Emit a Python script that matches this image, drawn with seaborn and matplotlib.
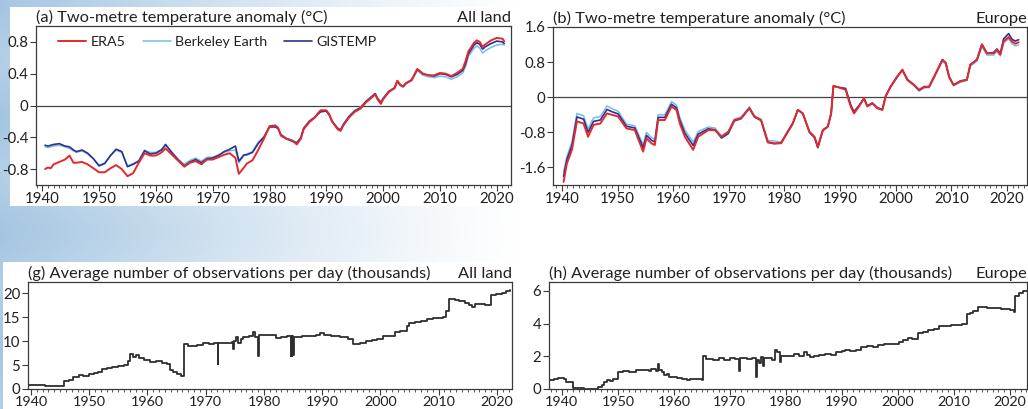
import numpy as np
import matplotlib
matplotlib.use("Agg")
import matplotlib.pyplot as plt
import seaborn as sns
import pandas as pd
from matplotlib.ticker import MultipleLocator, FixedLocator, FixedFormatter

# ---------------- data ----------------
# (a) All land, 2 m temperature anomaly (12-month running mean)
years_a = [1940.5, 1941.0, 1941.5, 1942, 1943, 1944, 1944.8, 1945.5, 1946, 1947,
           1948, 1949, 1950, 1951, 1952, 1953, 1954, 1955, 1956, 1957,
           1958, 1959, 1960, 1961, 1961.7, 1963, 1964, 1965, 1966, 1967,
           1968, 1969, 1970, 1971, 1972, 1973, 1974, 1974.6, 1975.5, 1976,
           1977, 1978, 1979, 1980, 1981, 1981.5, 1982, 1983, 1984, 1984.8,
           1985.5, 1986, 1987, 1988, 1988.5, 1989, 1990, 1990.5, 1991, 1992,
           1992.5, 1993, 1994, 1995, 1996, 1997, 1998, 1998.6, 1999, 1999.6,
           2000, 2001, 2002, 2002.5, 2003, 2003.5, 2004, 2005, 2006, 2006.5,
           2007, 2008, 2009, 2010, 2011, 2012, 2013, 2014, 2014.5, 2015,
           2016, 2016.5, 2017, 2017.5, 2018, 2019, 2020, 2021, 2021.3]
era5_a = [-0.80, -0.78, -0.79, -0.74, -0.71, -0.68, -0.63, -0.72, -0.72, -0.71,
          -0.74, -0.79, -0.84, -0.84, -0.79, -0.75, -0.80, -0.89, -0.85, -0.72,
          -0.60, -0.63, -0.63, -0.59, -0.54, -0.63, -0.70, -0.77, -0.72, -0.70,
          -0.74, -0.68, -0.68, -0.65, -0.62, -0.60, -0.66, -0.86, -0.78, -0.73,
          -0.69, -0.56, -0.42, -0.26, -0.25, -0.28, -0.38, -0.42, -0.44, -0.49,
          -0.42, -0.30, -0.21, -0.15, -0.10, -0.06, -0.06, -0.11, -0.20, -0.30,
          -0.32, -0.25, -0.15, -0.08, -0.04, 0.04, 0.10, 0.14, 0.08, 0.02,
          0.08, 0.17, 0.22, 0.31, 0.26, 0.24, 0.28, 0.32, 0.46, 0.43,
          0.40, 0.38, 0.38, 0.41, 0.40, 0.37, 0.41, 0.46, 0.56, 0.68,
          0.79, 0.82, 0.80, 0.74, 0.77, 0.82, 0.85, 0.84, 0.81]
gistemp_a = [-0.50, -0.51, -0.50, -0.49, -0.48, -0.51, -0.52, -0.56, -0.58, -0.56,
             -0.60, -0.67, -0.76, -0.73, -0.63, -0.55, -0.58, -0.77, -0.74, -0.70,
             -0.57, -0.61, -0.60, -0.56, -0.49, -0.61, -0.69, -0.76, -0.71, -0.68,
             -0.72, -0.67, -0.66, -0.63, -0.58, -0.55, -0.51, -0.70, -0.62, -0.62,
             -0.59, -0.48, -0.40, -0.27, -0.27, -0.29, -0.37, -0.42, -0.45, -0.47,
             -0.41, -0.29, -0.20, -0.15, -0.11, -0.08, -0.07, -0.12, -0.20, -0.29,
             -0.31, -0.24, -0.14, -0.07, -0.03, 0.05, 0.11, 0.15, 0.09, 0.04,
             0.09, 0.18, 0.22, 0.31, 0.26, 0.24, 0.28, 0.32, 0.45, 0.43,
             0.40, 0.38, 0.37, 0.40, 0.39, 0.36, 0.39, 0.44, 0.52, 0.65,
             0.76, 0.79, 0.77, 0.71, 0.74, 0.78, 0.81, 0.80, 0.78]
berkeley_a = [-0.52, -0.53, -0.52, -0.51, -0.50, -0.52, -0.54, -0.57, -0.59, -0.57,
              -0.61, -0.67, -0.75, -0.72, -0.63, -0.56, -0.59, -0.76, -0.73, -0.69,
              -0.56, -0.59, -0.59, -0.55, -0.50, -0.60, -0.68, -0.74, -0.69, -0.66,
              -0.70, -0.65, -0.65, -0.62, -0.59, -0.57, -0.56, -0.72, -0.63, -0.61,
              -0.58, -0.46, -0.39, -0.26, -0.26, -0.28, -0.36, -0.41, -0.44, -0.46,
              -0.40, -0.28, -0.19, -0.14, -0.10, -0.07, -0.07, -0.11, -0.19, -0.28,
              -0.30, -0.23, -0.13, -0.06, -0.02, 0.06, 0.12, 0.15, 0.09, 0.03,
              0.08, 0.17, 0.21, 0.30, 0.25, 0.23, 0.27, 0.31, 0.44, 0.41,
              0.38, 0.36, 0.35, 0.37, 0.36, 0.33, 0.36, 0.41, 0.49, 0.62,
              0.72, 0.75, 0.72, 0.66, 0.69, 0.73, 0.76, 0.77, 0.76]

# (b) Europe, 2 m temperature anomaly
years_b = [1940.3, 1940.9, 1941.8, 1942.7, 1943.9, 1944.7, 1945.7, 1946.9, 1948.1, 1949.0,
           1950.1, 1951.6, 1953.1, 1954.6, 1955.2, 1956.1, 1956.7, 1957.3, 1958.5, 1959.7,
           1960.6, 1961.2, 1962.1, 1963.6, 1964.5, 1966.3, 1967.5, 1968.7, 1969.9, 1971.0,
           1972.2, 1973.7, 1974.6, 1975.8, 1977.0, 1978.2, 1979.4, 1980.6, 1981.5, 1982.4,
           1983.3, 1984.5, 1985.4, 1986.0, 1986.9, 1987.8, 1988.4, 1988.8, 1990.1, 1991.0,
           1991.9, 1992.5, 1993.4, 1994.3, 1994.9, 1995.8, 1996.7, 1997.6, 1998.2, 1999.1,
           2000.3, 2001.2, 2002.1, 2003.3, 2004.2, 2005.1, 2006.0, 2006.9, 2007.8, 2008.4,
           2009.0, 2009.6, 2010.4, 2011.6, 2012.8, 2013.4, 2014.6, 2015.5, 2016.4, 2017.6,
           2018.2, 2018.8, 2019.4, 2020.3, 2020.9, 2021.5, 2022.1]
era5_b = [-1.93, -1.51, -1.20, -0.55, -0.60, -0.90, -0.63, -0.60, -0.37, -0.40,
          -0.44, -0.71, -0.75, -1.24, -0.94, -1.05, -1.09, -0.52, -0.52, -0.21,
          -0.29, -0.60, -0.90, -1.20, -0.90, -0.75, -0.75, -0.90, -0.79, -0.52,
          -0.48, -0.25, -0.44, -0.52, -1.02, -1.05, -1.05, -0.79, -0.60, -0.29,
          -0.37, -0.79, -0.90, -1.13, -0.75, -0.67, -0.37, 0.26, 0.21, 0.17,
          -0.21, -0.37, -0.21, -0.02, -0.21, -0.14, -0.25, -0.29, 0.02, 0.24,
          0.47, 0.63, 0.40, 0.28, 0.17, 0.24, 0.24, 0.47, 0.70, 0.85,
          0.78, 0.47, 0.28, 0.36, 0.40, 0.74, 0.85, 1.20, 1.00, 1.00,
          1.08, 0.97, 1.27, 1.37, 1.27, 1.22, 1.25]
gistemp_b = [-1.80, -1.42, -1.10, -0.45, -0.50, -0.80, -0.55, -0.52, -0.28, -0.33,
             -0.38, -0.66, -0.70, -1.15, -0.87, -0.98, -1.02, -0.46, -0.46, -0.16,
             -0.24, -0.53, -0.82, -1.10, -0.84, -0.72, -0.74, -0.93, -0.83, -0.54,
             -0.49, -0.25, -0.45, -0.53, -1.03, -1.06, -1.04, -0.79, -0.60, -0.29,
             -0.37, -0.80, -0.92, -1.15, -0.76, -0.67, -0.37, 0.25, 0.22, 0.20,
             -0.17, -0.33, -0.19, -0.03, -0.20, -0.13, -0.24, -0.28, 0.03, 0.25,
             0.48, 0.62, 0.40, 0.28, 0.16, 0.23, 0.24, 0.46, 0.70, 0.86,
             0.78, 0.46, 0.28, 0.37, 0.40, 0.74, 0.86, 1.21, 1.00, 1.02,
             1.10, 1.00, 1.33, 1.45, 1.32, 1.28, 1.31]
berkeley_b = [-1.70, -1.35, -1.02, -0.37, -0.42, -0.72, -0.47, -0.44, -0.20, -0.26,
              -0.32, -0.61, -0.65, -1.08, -0.80, -0.92, -0.96, -0.40, -0.40, -0.10,
              -0.18, -0.46, -0.75, -1.02, -0.78, -0.68, -0.70, -0.88, -0.78, -0.50,
              -0.45, -0.22, -0.42, -0.50, -0.98, -1.00, -1.02, -0.76, -0.58, -0.28,
              -0.36, -0.78, -0.90, -1.12, -0.74, -0.66, -0.36, 0.25, 0.21, 0.18,
              -0.19, -0.35, -0.20, -0.03, -0.21, -0.14, -0.25, -0.29, 0.02, 0.24,
              0.46, 0.61, 0.38, 0.26, 0.14, 0.21, 0.22, 0.44, 0.67, 0.82,
              0.75, 0.44, 0.26, 0.34, 0.38, 0.71, 0.82, 1.16, 0.96, 0.96,
              1.04, 0.94, 1.24, 1.33, 1.22, 1.17, 1.19]

# (g) All land, observations per day (thousands)
years_g = [1939.5, 1941.5, 1942.5, 1944.0, 1945.6, 1945.7, 1946.5, 1947.3, 1948.2, 1949.0,
           1950.0, 1950.8, 1951.5, 1952.2, 1953.0, 1954.0, 1955.0, 1956.0, 1956.6, 1957.0,
           1957.5, 1958.0, 1958.5, 1959.5, 1960.5, 1961.5, 1962.5, 1963.3, 1963.8, 1964.4,
           1965.0, 1965.8, 1966.2, 1967.0, 1968.5, 1969.5, 1970.5, 1971.5, 1972.1, 1972.2,
           1973.5, 1974.5, 1974.7, 1974.8, 1975.2, 1975.5, 1976.0, 1976.5, 1977.5, 1978.2,
           1978.4, 1979.0, 1979.1, 1980.5, 1981.5, 1982.0, 1983.0, 1984.0, 1984.6, 1984.7,
           1984.8, 1984.9, 1985.0, 1985.1, 1986.5, 1988.0, 1989.0, 1989.6, 1990.3, 1991.5,
           1993.0, 1994.5, 1995.3, 1996.5, 1997.5, 1998.5, 1999.5, 2000.5, 2001.5, 2002.5,
           2003.3, 2004.5, 2005.0, 2006.0, 2007.0, 2008.0, 2009.0, 2010.0, 2010.7, 2011.3,
           2011.8, 2012.8, 2013.5, 2014.5, 2015.3, 2015.8, 2016.3, 2017.0, 2018.0, 2018.6,
           2019.0, 2019.8, 2020.8, 2021.6, 2022.2]
obs_g = [0.9, 0.8, 0.7, 0.65, 0.6, 1.7, 1.9, 2.4, 2.9, 2.8,
         3.1, 3.4, 3.6, 4.2, 4.4, 4.5, 4.8, 5.0, 5.8, 7.3,
         6.7, 7.1, 6.4, 6.0, 5.6, 5.8, 5.5, 5.2, 4.0, 3.6,
         3.1, 2.8, 9.3, 9.0, 9.2, 9.5, 9.3, 9.5, 5.3, 9.6,
         9.5, 9.7, 8.4, 10.0, 10.8, 9.6, 10.5, 10.8, 11.0, 11.8,
         10.8, 6.8, 11.3, 11.2, 11.2, 10.6, 10.8, 11.0, 6.8, 11.0,
         6.9, 11.0, 7.0, 10.9, 11.0, 11.0, 11.3, 11.7, 11.2, 11.0,
         10.8, 10.5, 9.3, 9.5, 10.0, 10.3, 10.5, 11.0, 11.0, 11.8,
         12.0, 13.2, 13.8, 13.9, 14.2, 14.6, 14.8, 14.9, 15.0, 16.3,
         18.8, 18.6, 18.3, 18.0, 17.5, 17.0, 17.8, 17.8, 17.6, 17.5,
         19.5, 19.9, 20.0, 20.4, 20.7]

# (h) Europe, observations per day (thousands)
years_h = [1937.7, 1938.6, 1939.3, 1940.3, 1940.8, 1941.7, 1942.0, 1944.0, 1946.0, 1946.5,
           1947.1, 1947.6, 1948.0, 1948.6, 1949.2, 1950.1, 1951.0, 1952.0, 1953.3, 1954.5,
           1955.5, 1956.0, 1956.8, 1957.2, 1957.4, 1957.8, 1958.3, 1958.7, 1959.2, 1960.5,
           1961.5, 1962.3, 1962.9, 1964.0, 1965.0, 1965.3, 1965.8, 1967.0, 1968.0, 1969.0,
           1970.0, 1971.0, 1971.7, 1971.8, 1973.0, 1974.0, 1974.7, 1974.8, 1975.3, 1975.6,
           1976.0, 1976.1, 1977.0, 1977.6, 1978.1, 1978.5, 1979.0, 1979.1, 1980.5, 1981.5,
           1982.3, 1983.2, 1983.8, 1984.3, 1985.0, 1986.0, 1987.0, 1988.0, 1989.0, 1990.0,
           1990.6, 1991.5, 1992.5, 1993.5, 1994.5, 1995.5, 1996.5, 1997.5, 1998.5, 1999.5,
           2000.3, 2001.0, 2001.8, 2002.5, 2003.7, 2004.5, 2005.5, 2006.5, 2007.3, 2008.3,
           2009.5, 2010.5, 2011.5, 2012.3, 2013.0, 2013.5, 2014.3, 2015.3, 2016.0, 2017.1,
           2018.5, 2020.0, 2020.7, 2021.0, 2021.6, 2022.3, 2023.1]
obs_h = [0.55, 0.60, 0.65, 0.60, 0.45, 0.40, 0.05, 0.02, 0.03, 0.10,
         0.25, 0.40, 0.55, 0.50, 0.62, 1.05, 1.10, 1.05, 1.15, 1.15,
         1.10, 1.20, 1.10, 1.55, 1.15, 1.05, 0.85, 0.90, 0.75, 0.70,
         0.62, 0.55, 0.60, 0.60, 0.55, 2.00, 1.85, 1.80, 1.90, 1.80,
         1.90, 1.85, 1.10, 1.90, 1.85, 1.90, 0.75, 1.80, 1.60, 1.95,
         1.40, 1.90, 1.90, 1.80, 2.40, 2.25, 1.65, 2.00, 2.05, 2.15,
         2.05, 2.25, 2.10, 1.95, 2.05, 2.10, 2.15, 2.10, 2.25, 2.30,
         2.40, 2.35, 2.40, 2.55, 2.65, 2.55, 2.70, 2.75, 2.75, 2.75,
         2.90, 3.00, 3.15, 3.05, 3.40, 3.50, 3.60, 3.65, 3.85, 3.85,
         3.90, 3.90, 3.95, 4.60, 4.65, 4.80, 5.00, 5.05, 4.95, 4.95,
         4.90, 4.85, 4.70, 5.70, 5.90, 6.00, 6.00]

xticks = [1940, 1950, 1960, 1970, 1980, 1990, 2000, 2010, 2020]
xticklabels = ["1940", "1950", "1960", "1970", "1980", "1990", "2000", "2010", "2020"]
yticks_a = [-0.8, -0.4, 0, 0.4, 0.8]
yticklabels_a = ["-0.8", "-0.4", "0", "0.4", "0.8"]
yticks_b = [-1.6, -0.8, 0, 0.8, 1.6]
yticklabels_b = ["-1.6", "-0.8", "0", "0.8", "1.6"]
yticks_g = [0, 5, 10, 15, 20]
yticklabels_g = ["0", "5", "10", "15", "20"]
yticks_h = [0, 2, 4, 6]
yticklabels_h = ["0", "2", "4", "6"]

# ---------------- style ----------------
sns.set_theme(style="white")
plt.rcParams["font.family"] = ["Lato", "DejaVu Sans"]
plt.rcParams["axes.unicode_minus"] = False

C_ERA5 = "#e5282b"
C_BERK = "#78bde6"
C_GIS = "#2b3190"
C_OBS = "#2e2e2e"
C_TXT = "#231f20"
C_SPINE = "#3a3a3a"

W, H = 1028, 409
fig = plt.figure(figsize=(W / 100, H / 100), dpi=100)

# decorative background (light icy blue on the left, white panels)
bg = fig.add_axes([0, 0, 1, 1], zorder=-10)
px = np.arange(W)[None, :]
py = np.arange(H)[:, None]
inten = np.clip(1 - px / 520.0, 0, 1) ** 1.2 * np.ones((H, 1))
inten = inten * (1 - 0.15 * np.sin(py / 37.0) ** 2)
white_top = (px >= 10) & (py >= 7) & (py <= 205)
white_bot = (px >= 3) & (py >= 262)
inten[white_top | white_bot] = 0
blue = np.array([165, 198, 226]) / 255.0
img = 1 - inten[..., None] * (1 - blue[None, None, :])
bg.imshow(img, aspect="auto", extent=[0, W, H, 0])
bg.set_axis_off()


def pos(l, t, r, b):
    return [l / W, 1 - b / H, (r - l) / W, (b - t) / H]


def style_axes(ax, yt, ytl, xlim, ylim, ltitle, rtitle, xlabsize=10.8):
    ax.set_facecolor("white")
    ax.set_xlim(*xlim)
    ax.set_ylim(*ylim)
    ax.xaxis.set_major_locator(FixedLocator(xticks))
    ax.xaxis.set_major_formatter(FixedFormatter(xticklabels))
    ax.xaxis.set_minor_locator(MultipleLocator(1))
    ax.yaxis.set_major_locator(FixedLocator(yt))
    ax.yaxis.set_major_formatter(FixedFormatter(ytl))
    ax.tick_params(axis="both", which="major", direction="out", length=4, width=0.8,
                   color=C_SPINE, labelsize=10.8, labelcolor=C_TXT, pad=1.5,
                   bottom=True, left=True)
    ax.tick_params(axis="x", which="major", labelsize=xlabsize, pad=1.0)
    ax.tick_params(axis="x", which="minor", direction="out", length=2.5, width=0.6,
                   color=C_SPINE, bottom=True)
    for s in ax.spines.values():
        s.set_color(C_SPINE)
        s.set_linewidth(0.9)
        s.set_visible(True)
    ax.set_xlabel("")
    ax.set_ylabel("")
    ax.grid(False)
    ax.set_title(ltitle, loc="left", fontsize=11.8, color=C_TXT, pad=3)
    ax.set_title(rtitle, loc="right", fontsize=11.8, color=C_TXT, pad=3)


# (a)
ax_a = fig.add_axes(pos(36, 26, 511, 185))
ax_a.axhline(0, color="#444444", lw=0.9, zorder=1)
sns.lineplot(x=years_a, y=berkeley_a, ax=ax_a, color=C_BERK, lw=1.1, label="Berkeley Earth", estimator=None)
sns.lineplot(x=years_a, y=gistemp_a, ax=ax_a, color=C_GIS, lw=1.2, label="GISTEMP", estimator=None)
sns.lineplot(x=years_a, y=era5_a, ax=ax_a, color=C_ERA5, lw=1.4, label="ERA5", estimator=None)
style_axes(ax_a, yticks_a, yticklabels_a, (1938.9, 2022.5), (-1.0, 1.0),
           "(a) Two-metre temperature anomaly (°C)", "All land")
h, l = ax_a.get_legend_handles_labels()
order = [l.index("ERA5"), l.index("Berkeley Earth"), l.index("GISTEMP")]
ax_a.legend([h[i] for i in order], [l[i] for i in order], loc="upper left",
            bbox_to_anchor=(0.02, 1.02), ncol=3, frameon=False, fontsize=10.3,
            handlelength=1.95, columnspacing=1.2, handletextpad=0.3,
            labelcolor=C_TXT)

# (b)
ax_b = fig.add_axes(pos(553, 27, 1027, 185))
ax_b.axhline(0, color="#444444", lw=0.9, zorder=1)
sns.lineplot(x=years_b, y=berkeley_b, ax=ax_b, color=C_BERK, lw=1.1, estimator=None)
sns.lineplot(x=years_b, y=gistemp_b, ax=ax_b, color=C_GIS, lw=1.2, estimator=None)
sns.lineplot(x=years_b, y=era5_b, ax=ax_b, color=C_ERA5, lw=1.4, estimator=None)
style_axes(ax_b, yticks_b, yticklabels_b, (1938.4, 2023.6), (-2.0, 1.6),
           "(b) Two-metre temperature anomaly (°C)", "Europe")

# (g)
ax_g = fig.add_axes(pos(28, 282, 512, 389))
sns.lineplot(x=years_g, y=obs_g, ax=ax_g, color=C_OBS, lw=1.3, drawstyle="steps-post", estimator=None)
style_axes(ax_g, yticks_g, yticklabels_g, (1939.5, 2022.6), (0, 22.3),
           "(g) Average number of observations per day (thousands)", "All land",
           xlabsize=10.3)

# (h)
ax_h = fig.add_axes(pos(549, 282, 1027, 389))
sns.lineplot(x=years_h, y=obs_h, ax=ax_h, color=C_OBS, lw=1.3, drawstyle="steps-post", estimator=None)
style_axes(ax_h, yticks_h, yticklabels_h, (1937.7, 2023.1), (0, 6.55),
           "(h) Average number of observations per day (thousands)", "Europe",
           xlabsize=10.3)

fig.savefig("out.png", dpi=100)
